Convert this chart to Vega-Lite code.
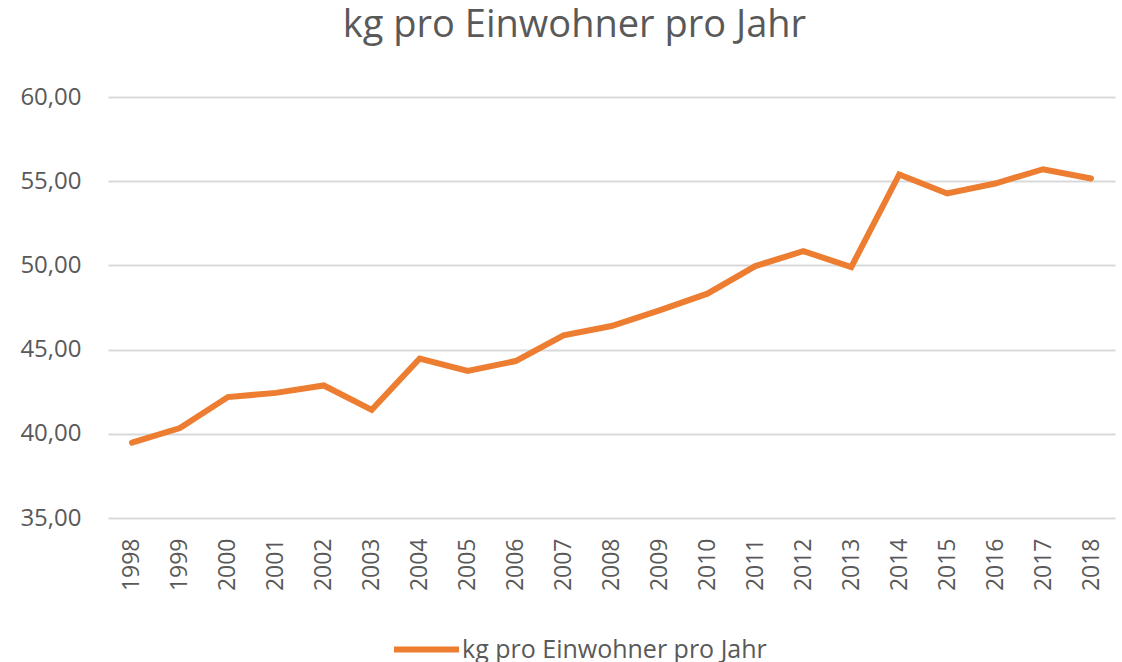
{
  "$schema": "https://vega.github.io/schema/vega-lite/v6.json",
  "autosize": "none",
  "width": 1007,
  "height": 421,
  "padding": {"left": 108, "top": 97, "right": 7, "bottom": 144},
  "background": "white",
  "config": {
    "locale": {"number": {"decimal": ",", "thousands": ".", "grouping": [3], "currency": ["", " €"]}},
    "font": "Open Sans",
    "view": {"stroke": null}
  },
  "title": {
    "text": "kg pro Einwohner pro Jahr",
    "fontSize": 38,
    "font": "Open Sans",
    "fontWeight": "normal",
    "color": "#595959",
    "anchor": "middle",
    "dx": -37,
    "offset": 40
  },
  "data": {
    "values": [
      {"Jahr": "1998", "Wert": 39.47, "Serie": "kg pro Einwohner pro Jahr"},
      {"Jahr": "1999", "Wert": 40.34, "Serie": "kg pro Einwohner pro Jahr"},
      {"Jahr": "2000", "Wert": 42.18, "Serie": "kg pro Einwohner pro Jahr"},
      {"Jahr": "2001", "Wert": 42.43, "Serie": "kg pro Einwohner pro Jahr"},
      {"Jahr": "2002", "Wert": 42.87, "Serie": "kg pro Einwohner pro Jahr"},
      {"Jahr": "2003", "Wert": 41.42, "Serie": "kg pro Einwohner pro Jahr"},
      {"Jahr": "2004", "Wert": 44.47, "Serie": "kg pro Einwohner pro Jahr"},
      {"Jahr": "2005", "Wert": 43.73, "Serie": "kg pro Einwohner pro Jahr"},
      {"Jahr": "2006", "Wert": 44.32, "Serie": "kg pro Einwohner pro Jahr"},
      {"Jahr": "2007", "Wert": 45.85, "Serie": "kg pro Einwohner pro Jahr"},
      {"Jahr": "2008", "Wert": 46.40, "Serie": "kg pro Einwohner pro Jahr"},
      {"Jahr": "2009", "Wert": 47.33, "Serie": "kg pro Einwohner pro Jahr"},
      {"Jahr": "2010", "Wert": 48.32, "Serie": "kg pro Einwohner pro Jahr"},
      {"Jahr": "2011", "Wert": 49.96, "Serie": "kg pro Einwohner pro Jahr"},
      {"Jahr": "2012", "Wert": 50.85, "Serie": "kg pro Einwohner pro Jahr"},
      {"Jahr": "2013", "Wert": 49.90, "Serie": "kg pro Einwohner pro Jahr"},
      {"Jahr": "2014", "Wert": 55.40, "Serie": "kg pro Einwohner pro Jahr"},
      {"Jahr": "2015", "Wert": 54.27, "Serie": "kg pro Einwohner pro Jahr"},
      {"Jahr": "2016", "Wert": 54.86, "Serie": "kg pro Einwohner pro Jahr"},
      {"Jahr": "2017", "Wert": 55.71, "Serie": "kg pro Einwohner pro Jahr"},
      {"Jahr": "2018", "Wert": 55.16, "Serie": "kg pro Einwohner pro Jahr"}
    ]
  },
  "mark": {"type": "line", "strokeWidth": 6, "strokeCap": "round", "strokeJoin": "miter"},
  "encoding": {
    "x": {
      "field": "Jahr",
      "type": "ordinal",
      "scale": {"type": "point", "padding": 0.5},
      "axis": {
        "title": null,
        "labelAngle": -90,
        "labelFontSize": 23,
        "labelColor": "#595959",
        "labelPadding": 20,
        "ticks": false,
        "domain": false,
        "grid": false
      }
    },
    "y": {
      "field": "Wert",
      "type": "quantitative",
      "scale": {"domain": [35, 60], "nice": false, "zero": false},
      "axis": {
        "title": null,
        "values": [35, 40, 45, 50, 55, 60],
        "format": ".2f",
        "labelFontSize": 24,
        "labelColor": "#595959",
        "labelPadding": 27,
        "ticks": false,
        "domain": false,
        "grid": true,
        "gridColor": "#d9d9d9",
        "gridWidth": 2
      }
    },
    "color": {
      "field": "Serie",
      "type": "nominal",
      "scale": {"range": ["#ED7D31"]},
      "legend": {
        "title": null,
        "orient": "none",
        "legendX": 283,
        "legendY": 517,
        "symbolType": "stroke",
        "symbolSize": 4225,
        "symbolStrokeWidth": 6,
        "labelFontSize": 25,
        "labelColor": "#595959",
        "labelOffset": 0,
        "labelLimit": 0
      }
    }
  }
}
